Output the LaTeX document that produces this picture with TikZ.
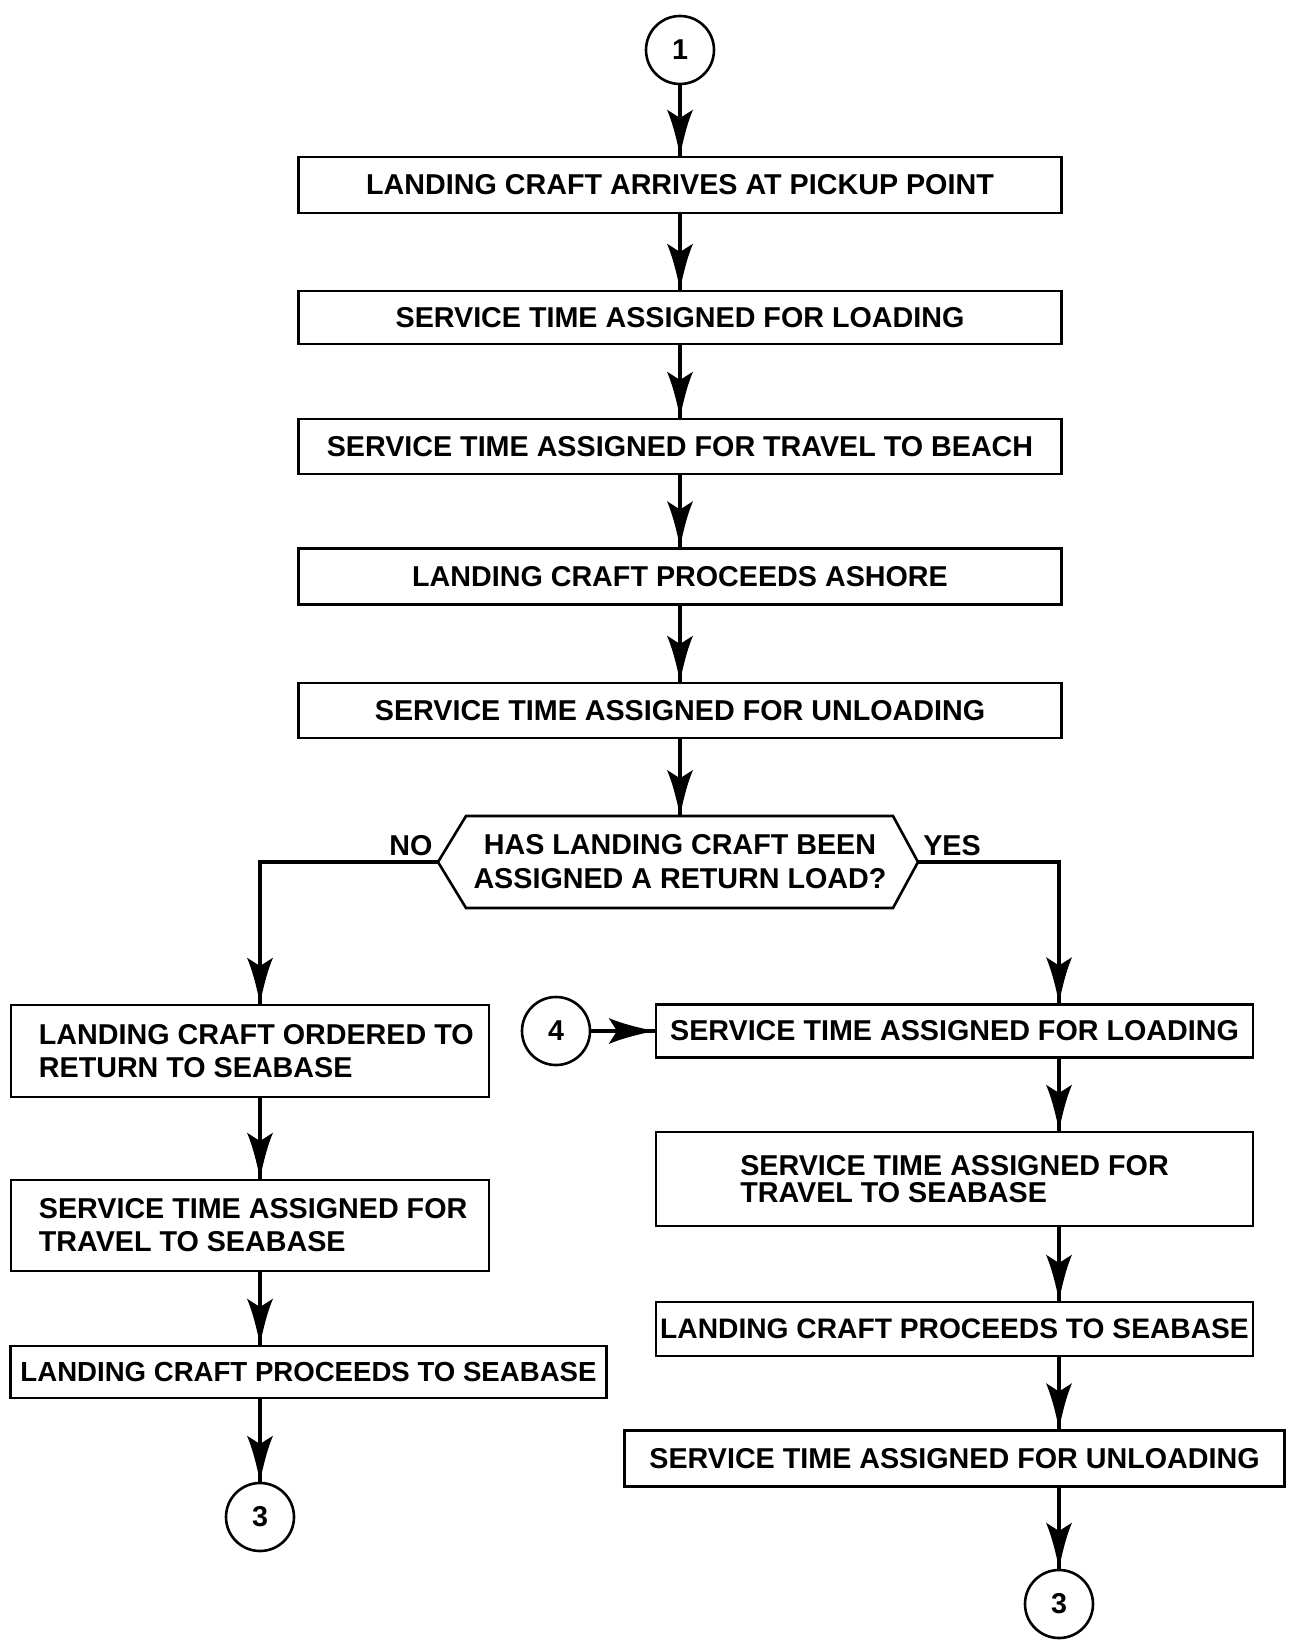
\documentclass[tikz,border=0pt]{standalone}
\usepackage{fontspec}
\setmainfont{Liberation Sans}
\usetikzlibrary{decorations.markings}

\newcommand\flowfont{\bfseries\fontsize{28.7}{33}\selectfont}
\newcommand\flowfonttight{\bfseries\fontsize{28.7}{27}\selectfont}

\tikzset{
  outline/.style={draw=black, line width=2.6pt},
  stepbox/.style={outline, rectangle, inner sep=0pt, align=center, font=\flowfont},
  leftbox/.style={stepbox, align=left},
  connector/.style={outline, circle, inner sep=0pt, minimum size=68pt, font=\flowfont},
  label/.style={inner sep=0pt, font=\flowfont},
  boxtext/.style={label, align=left, anchor=west},
  % flow line with a slender concave arrowhead at its end
  flow/.style={line width=4pt, line join=miter,
    postaction={decorate},
    decoration={markings, mark=at position 1 with {
      \fill (0,0) .. controls (-14,-2.8) and (-32,-7) .. (-46,-13)
        .. controls (-43,-7) .. (-39,-2) -- (-39,2)
        .. controls (-43,7) .. (-46,13)
        .. controls (-32,7) and (-14,2.8) .. (0,0) -- cycle;
    }}},
}

\begin{document}
\begin{tikzpicture}[x=1pt, y=-1pt]
\path[use as bounding box, fill=white] (0,0) rectangle (1290,1649);

% main column
\node[connector] (c1) at (680,50) {1};
\node[stepbox, minimum width=763pt, minimum height=56pt] (b1) at (680,185) {LANDING CRAFT ARRIVES AT PICKUP POINT};
\node[stepbox, minimum width=763pt, minimum height=53pt] (b2) at (680,317.5) {SERVICE TIME ASSIGNED FOR LOADING};
\node[stepbox, minimum width=763pt, minimum height=55pt] (b3) at (680,446.5) {SERVICE TIME ASSIGNED FOR TRAVEL TO BEACH};
\node[stepbox, minimum width=763pt, minimum height=56pt] (b4) at (680,576.5) {LANDING CRAFT PROCEEDS ASHORE};
\node[stepbox, minimum width=763pt, minimum height=55pt] (b5) at (680,710.5) {SERVICE TIME ASSIGNED FOR UNLOADING};

% decision
\node[label, align=center, font=\bfseries\fontsize{28.7}{34}\selectfont] (dec) at (680,862) {HAS LANDING CRAFT BEEN\\ASSIGNED A RETURN LOAD?};
\coordinate (decL) at (438,862);
\coordinate (decR) at (918,862);
\coordinate (decT) at (680,816);
\draw[outline, line join=miter] (decL) -- (466,816) -- (893,816) -- (decR) -- (893,908) -- (466,908) -- cycle;
\node[label] (no) at (411,846) {NO};
\node[label] (yes) at (952,846) {YES};

% left branch
\node[stepbox, minimum width=478pt, minimum height=92pt] (l1) at (250,1051) {};
\node[boxtext] (l1t) at ([xshift=29pt]l1.west) {LANDING CRAFT ORDERED TO\\RETURN TO SEABASE};
\node[stepbox, minimum width=478pt, minimum height=91pt] (l2) at (250,1225.5) {};
\node[boxtext] (l2t) at ([xshift=29pt]l2.west) {SERVICE TIME ASSIGNED FOR\\TRAVEL TO SEABASE};
\node[stepbox, font=\bfseries\fontsize{27.6}{33}\selectfont, minimum width=596pt, minimum height=52pt] (l3) at (308.5,1372) {LANDING CRAFT PROCEEDS TO SEABASE};
\node[connector] (c3l) at (260,1517) {3};

% right branch
\node[connector] (c4) at (556,1031) {4};
\node[stepbox, minimum width=597pt, minimum height=53pt] (r1) at (954.5,1031) {SERVICE TIME ASSIGNED FOR LOADING};
\node[leftbox, font=\flowfonttight, minimum width=597pt, minimum height=94pt] (r2) at (954.5,1179) {SERVICE TIME ASSIGNED FOR\\TRAVEL TO SEABASE};
\node[stepbox, font=\bfseries\fontsize{28.2}{33}\selectfont, minimum width=597pt, minimum height=54pt] (r3) at (954.5,1329) {LANDING CRAFT PROCEEDS TO SEABASE};
\node[stepbox, minimum width=660pt, minimum height=56pt] (r4) at (954.5,1458.5) {SERVICE TIME ASSIGNED FOR UNLOADING};
\node[connector] (c3r) at (1059,1604) {3};

% flow lines
\draw[flow] (c1.south) -- (b1.north);
\draw[flow] (b1.south) -- (b2.north);
\draw[flow] (b2.south) -- (b3.north);
\draw[flow] (b3.south) -- (b4.north);
\draw[flow] (b4.south) -- (b5.north);
\draw[flow] (b5.south) -- (decT);

\draw[flow] (decL) -| (l1.north -| c3l);
\draw[flow] (l1.south -| c3l) -- (l2.north -| c3l);
\draw[flow] (l2.south -| c3l) -- (l3.north -| c3l);
\draw[flow] (l3.south -| c3l) -- (c3l.north);

\draw[flow] (decR) -| (r1.north -| c3r);
\draw[flow] (c4.east) -- (c4.east -| r1.west);
\draw[flow] (r1.south -| c3r) -- (r2.north -| c3r);
\draw[flow] (r2.south -| c3r) -- (r3.north -| c3r);
\draw[flow] (r3.south -| c3r) -- (r4.north -| c3r);
\draw[flow] (r4.south -| c3r) -- (c3r.north);
\end{tikzpicture}
\end{document}
